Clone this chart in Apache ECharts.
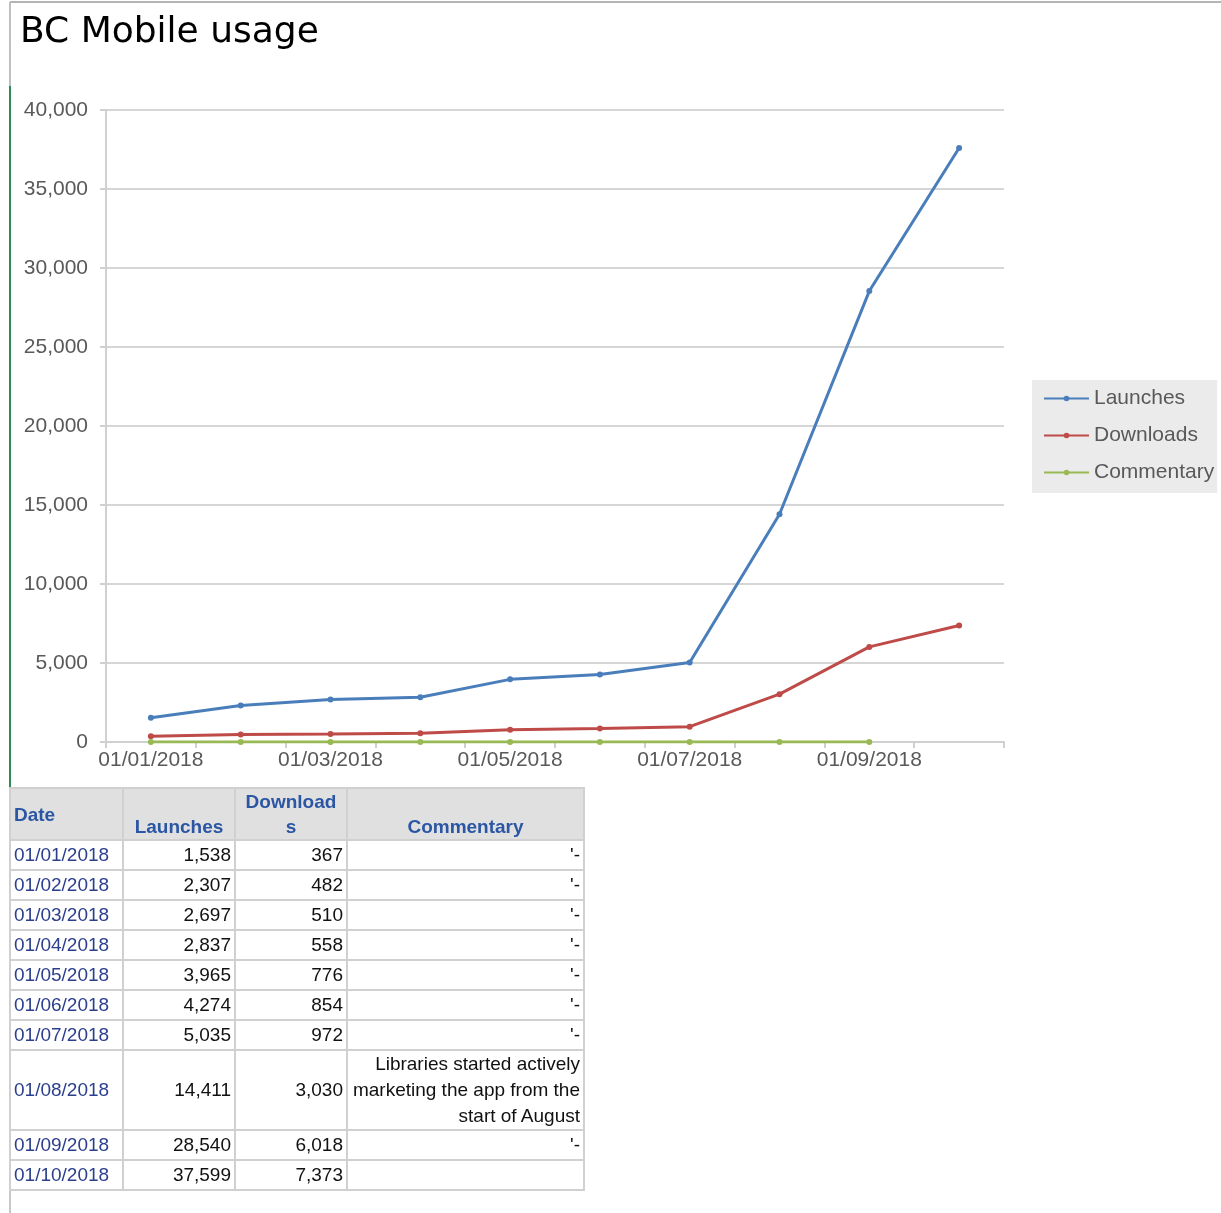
<!DOCTYPE html>
<html>
<head>
<meta charset="utf-8">
<script src="https://cdn.jsdelivr.net/npm/echarts@6/dist/echarts.min.js"></script>
<style>
  html, body { margin: 0; padding: 0; background: #fff; width: 1221px; height: 1213px; overflow: hidden; }
  #chart { position: absolute; left: 0; top: 0; width: 1221px; height: 790px; }
  .vline { position: absolute; width: 2px; }
  .hline { position: absolute; height: 2px; }
  #tbl { position: absolute; left: 9px; top: 787px; border-collapse: collapse; font-family: "Liberation Sans", Arial, sans-serif; font-size: 19px; table-layout: fixed; }
  #tbl td, #tbl th { border: 2px solid #d0d0d0; padding: 0 3px; overflow: hidden; white-space: nowrap; box-sizing: border-box; }
  #tbl th { background: #e0e0e0; color: #2a56a4; font-weight: bold; height: 52px; vertical-align: bottom; text-align: center; line-height: 25px; padding-bottom: 0; }
  #tbl th.date { text-align: left; vertical-align: middle; }
  #tbl td { height: 30px; line-height: 26px; color: #111; text-align: right; }
  #tbl td.date { color: #2b3f8c; text-align: left; }
  #tbl tr.tall td { height: 79px; }
  #tbl td.wrap { white-space: normal; line-height: 26px; }
</style>
</head>
<body>
<div class="hline" style="left:10px; top:1px; width:1211px; background:#b4b4b4; height:2px;"></div>
<div class="vline" style="left:9px; top:2px; height:84px; background:#c0c0c0;"></div>
<div class="vline" style="left:9px; top:86px; height:702px; background:#2e8b57;"></div>
<div class="vline" style="left:9px; top:788px; height:425px; background:#c8c8c8;"></div>
<div id="chart"></div>
<table id="tbl"></table>
<script>
const dates = ['01/01/2018','01/02/2018','01/03/2018','01/04/2018','01/05/2018','01/06/2018','01/07/2018','01/08/2018','01/09/2018','01/10/2018'];
const launches = [1538, 2307, 2697, 2837, 3965, 4274, 5035, 14411, 28540, 37599];
const downloads = [367, 482, 510, 558, 776, 854, 972, 3030, 6018, 7373];
const commentaryText = ["'-", "'-", "'-", "'-", "'-", "'-", "'-", "Libraries started actively marketing the app from the start of August", "'-", ""];
const commentaryPlot = [0, 0, 0, 0, 0, 0, 0, 0, 0, null];
const yTicks = [0, 5000, 10000, 15000, 20000, 25000, 30000, 35000, 40000];

const fmt = v => v.toLocaleString('en-US');

const chart = echarts.init(document.getElementById('chart'), null, { renderer: 'canvas' });
const lineSeries = (name, data, color) => ({
  name, type: 'line', data,
  symbol: 'circle', symbolSize: 6, showSymbol: true,
  lineStyle: { color, width: 3 },
  itemStyle: { color },
  connectNulls: false,
  animation: false
});
chart.setOption({
  animation: false,
  title: {
    text: 'BC Mobile usage', left: 15, top: 10,
    textStyle: { fontFamily: 'DejaVu Sans', fontSize: 36, fontWeight: 'normal', color: '#000' }
  },
  grid: { left: 106, right: 217, top: 110, bottom: 48, containLabel: false },
  legend: {
    orient: 'vertical', left: 1032, top: 380,
    backgroundColor: '#ebebeb',
    padding: [8, 3, 10, 11],
    itemWidth: 45, itemHeight: 7, itemGap: 16,
    textStyle: { fontFamily: 'Liberation Sans', fontSize: 21, color: '#595959', lineHeight: 21 },
    data: ['Launches', 'Downloads', 'Commentary']
  },
  xAxis: {
    type: 'category', data: dates, boundaryGap: true,
    axisLine: { lineStyle: { color: '#d0d0d0', width: 2 } },
    axisTick: { show: true, interval: 0, length: 6, lineStyle: { color: '#d0d0d0', width: 2 } },
    axisLabel: { interval: 1, margin: 8, fontFamily: 'Liberation Sans', fontSize: 21, color: '#595959' }
  },
  yAxis: {
    type: 'value', min: 0, max: 40000, interval: 5000,
    axisLine: { show: true, lineStyle: { color: '#d0d0d0', width: 2 } },
    axisTick: { show: true, length: 6, lineStyle: { color: '#d0d0d0', width: 2 } },
    splitLine: { lineStyle: { color: '#d6d6d6', width: 2 } },
    axisLabel: { margin: 18, fontFamily: 'Liberation Sans', fontSize: 21, color: '#595959', formatter: v => fmt(v) }
  },
  series: [
    lineSeries('Launches', launches, '#4a7ebb'),
    lineSeries('Downloads', downloads, '#be4b48'),
    lineSeries('Commentary', commentaryPlot, '#98b954')
  ]
});

// table
const tbl = document.getElementById('tbl');
const colgroup = document.createElement('colgroup');
[113, 112, 112, 237].forEach(w => { const c = document.createElement('col'); c.style.width = w + 'px'; colgroup.appendChild(c); });
tbl.appendChild(colgroup);
const hr = document.createElement('tr');
hr.innerHTML = '<th class="date">Date</th><th>Launches</th><th>Download<br>s</th><th>Commentary</th>';
tbl.appendChild(hr);
dates.forEach((d, i) => {
  const tr = document.createElement('tr');
  const long = commentaryText[i].length > 5;
  if (long) tr.className = 'tall';
  tr.innerHTML = '<td class="date">' + d + '</td><td>' + fmt(launches[i]) + '</td><td>' + fmt(downloads[i]) + '</td><td class="' + (long ? 'wrap' : '') + '">' + commentaryText[i] + '</td>';
  tbl.appendChild(tr);
});
</script>
</body>
</html>
